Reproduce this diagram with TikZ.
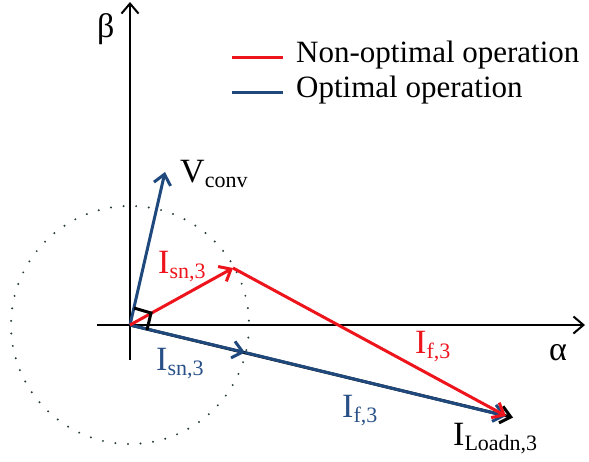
\documentclass[tikz,border=0pt]{standalone}
\usepackage{fontspec}
\setmainfont{Liberation Serif}
\usetikzlibrary{arrows.meta}
\definecolor{vred}{RGB}{238,20,28}
\definecolor{vblue}{RGB}{31,73,125}
\definecolor{tblue}{RGB}{40,80,135}
\definecolor{dotc}{RGB}{40,60,60}
\newcommand{\lblsz}{\fontsize{34}{34}\selectfont}
\newcommand{\subsz}{\fontsize{22}{22}\selectfont}
\newcommand{\vlab}[2]{#1\raisebox{-5pt}{\subsz #2}}
\begin{document}
\begin{tikzpicture}[x=1pt,y=-1pt,
  tip/.style={-{Straight Barb[length=10pt,width=17pt]}},
  axis/.style={line width=2pt,black,tip},
  vec/.style={line width=3pt,tip},
  lbl/.style={inner sep=0pt,anchor=base west,font=\lblsz},
  leg/.style={inner sep=0pt,anchor=base west,font=\fontsize{31}{31}\selectfont}]
\useasboundingbox (0,0) rectangle (589,461);
% dotted circle
\draw[dotc,line width=2.2pt,line cap=round,dash pattern=on 0pt off 12.6pt] (130,325) circle[radius=119];
% named points
\coordinate (O) at (130,325);
\coordinate (P) at (233,268);
\coordinate (L) at (506,416);
\coordinate (Lb) at (513,417.5);
\coordinate (M) at (245,352.5);
\coordinate (V) at (165,172);
\coordinate (ax0) at (97,325);
\coordinate (ax1) at (585,325);
\coordinate (ay0) at (130,360);
\coordinate (ay1) at (130,2);
% axes
\draw[axis] (ax0) -- (ax1);
\draw[axis] (ay0) -- (ay1);
% load vector (black, mostly hidden)
\draw[vec,black] (O) -- (Lb);
% optimal (blue)
\draw[vec,vblue] (O) -- (V);
\draw[vec,vblue] (O) -- (M);
\draw[vec,vblue] (M) -- (L);
% non-optimal (red)
\draw[vec,vred] (O) -- (P);
\draw[vec,vred] (P) -- (L);
% right angle marker
\coordinate (ra1) at (134,308);
\coordinate (ra2) at (151,313);
\coordinate (ra3) at (147,330);
\draw[line width=3pt,black] (ra1) -- (ra2) -- (ra3);
% labels
\node[lbl] (beta) at (97,37) {β};
\node[lbl] (alpha) at (549,360) {α};
\node[lbl] (vconv) at (180,182) {\vlab{V}{conv}};
\node[lbl,text=vred] (isnr) at (158,273) {\vlab{I}{sn,3}};
\node[lbl,text=tblue] (isnb) at (156,370) {\vlab{I}{sn,3}};
\node[lbl,text=tblue] (ifb) at (342,417) {\vlab{I}{f,3}};
\node[lbl,text=vred] (ifr) at (415,353) {\vlab{I}{f,3}};
\node[lbl] (iload) at (453,445) {\vlab{I}{Loadn,3}};
% legend
\coordinate (lr0) at (232,57);
\coordinate (lr1) at (283,57);
\coordinate (lb0) at (232,92);
\coordinate (lb1) at (283,92);
\draw[vred,line width=3pt] (lr0) -- (lr1);
\draw[vblue,line width=3pt] (lb0) -- (lb1);
\node[leg] (l1) at (296,62) {Non-optimal operation};
\node[leg] (l2) at (296,97) {Optimal operation};
\end{tikzpicture}
\end{document}
